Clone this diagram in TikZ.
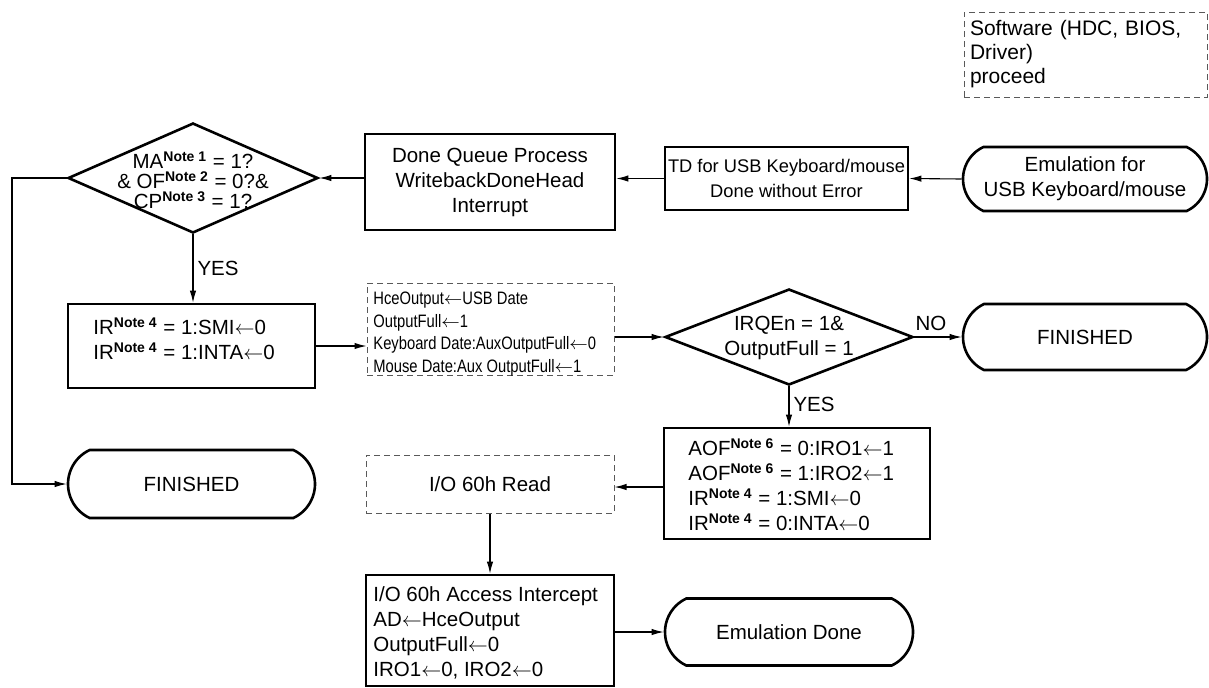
\documentclass[tikz,border=0pt]{standalone}
\usepackage{fontspec}
\setmainfont{Liberation Sans}
\newfontfamily\narrowfont[FakeStretch=0.82]{Liberation Sans}
\usetikzlibrary{shapes.geometric,shapes.misc,arrows.meta}

% superscript note marks and the assignment arrow
\newcommand{\nt}[1]{\textsuperscript{\bfseries\scriptsize Note~#1}}
\newcommand{\la}{$\leftarrow$}

\tikzset{
  base/.style={font=\fontsize{10.25}{12.5}\selectfont, inner sep=0pt},
  procbox/.style={base, draw, line width=1.3pt, rectangle, align=center},
  softbox/.style={base, draw=black!65, line width=0.5pt, dash pattern=on 3pt off 2pt, rectangle},
  termbox/.style={base, draw, line width=1.3pt, rounded rectangle, rounded rectangle arc length=130, align=center},
  decision/.style={draw, line width=1.3pt, diamond, inner sep=0pt},
  conn/.style={line width=0.55pt, -{Latex[length=6pt,width=3.2pt]}},
  tag/.style={base}
}

\begin{document}
\begin{tikzpicture}[x=0.5pt,y=-0.5pt]
\useasboundingbox (0,0) rectangle (1209,687);

% legend: software step
\node[softbox, minimum width=121.5pt, minimum height=42.5pt, text width=115.5pt,
      inner xsep=3pt, align=left, font=\fontsize{10.5}{12}\selectfont]
  (soft) at (1085.5,54.5) {Software (HDC, BIOS,\\Driver)\\proceed};

% top row
\node[termbox, minimum width=122pt, minimum height=32pt] (emu) at (1085,179)
  {Emulation for\\USB Keyboard/mouse};
\node[procbox, minimum width=121.5pt, minimum height=31.5pt,
      font=\fontsize{9.15}{12.5}\selectfont] (td) at (786.5,178.5)
  {TD for USB Keyboard/mouse\\Done without Error};
\node[procbox, minimum width=125pt, minimum height=48pt] (dq) at (490,182)
  {Done Queue Process\\WritebackDoneHead\\Interrupt};
\node[decision, minimum width=125pt, minimum height=55pt] (d1) at (193,178) {};
\node[base, align=center, font=\fontsize{10.25}{10}\selectfont] at (193,180)
  {MA\nt{1} = 1?\\\& OF\nt{2} = 0?\&\\CP\nt{3} = 1?};

% middle row
\node[procbox, minimum width=123.5pt, minimum height=42pt] (ir) at (191.5,346) {};
\node[base, align=left, anchor=west] at (93,339)
  {IR\nt{4} = 1:SMI\la0\\IR\nt{4} = 1:INTA\la0};
\node[softbox, minimum width=123.5pt, minimum height=46pt] (hce) at (490.5,329) {};
\node[base, align=left, anchor=west, font=\narrowfont\fontsize{9}{11.4}\selectfont] at (373,334)
  {HceOutput\la USB Date\\OutputFull\la1\\Keyboard Date:AuxOutputFull\la0\\Mouse Date:Aux OutputFull\la1};
\node[decision, minimum width=124pt, minimum height=48pt] (d2) at (789,337) {};
\node[base, align=center] at (789,338) {IRQEn = 1\&\\OutputFull = 1};
\node[termbox, minimum width=122pt, minimum height=33pt] (fin1) at (1085,337) {FINISHED};

% lower rows
\node[procbox, minimum width=133pt, minimum height=55.5pt] (aof) at (797,483.5) {};
\node[base, align=left, anchor=west] at (688,485)
  {AOF\nt{6} = 0:IRO1\la1\\AOF\nt{6} = 1:IRO2\la1\\IR\nt{4} = 1:SMI\la0\\IR\nt{4} = 0:INTA\la0};
\node[softbox, minimum width=124pt, minimum height=29pt] (rd) at (490,484) {I/O 60h Read};
\node[termbox, minimum width=123.5pt, minimum height=34pt] (fin2) at (191.5,484) {FINISHED};
\node[procbox, minimum width=124pt, minimum height=55.5pt] (acc) at (490,630.5) {};
\node[base, align=left, anchor=west] at (373,633)
  {I/O 60h Access Intercept\\AD\la HceOutput\\OutputFull\la0\\IRO1\la0, IRO2\la0};
\node[termbox, minimum width=124pt, minimum height=33.5pt] (done) at (789,632) {Emulation Done};

% connectors
\coordinate (lft) at (12,178);
\draw[conn] (emu.west) -- (td.east);
\draw[conn] (td.west) -- (dq.east |- td.west);
\draw[conn] (dq.west |- d1.east) -- (d1.east);
\draw[conn] (d1.south) -- node[tag, right=2pt, pos=0.5] {YES} (ir.north -| d1.south);
\draw[conn] (d1.west) -- (lft) |- (fin2.west);
\draw[conn] (ir.east) -- (hce.west |- ir.east);
\draw[conn] (hce.east |- d2.west) -- (d2.west);
\draw[conn] (d2.east) -- node[tag, above=3pt, pos=0.35] {NO} (fin1.west);
\draw[conn] (d2.south) -- node[tag, right=2pt, pos=0.45] {YES} (aof.north -| d2.south);
\draw[conn] (aof.west |- 0,487) -- (rd.east |- 0,487);
\draw[conn] (rd.south) -- (acc.north);
\draw[conn] (acc.east |- done.west) -- (done.west);
\end{tikzpicture}
\end{document}
